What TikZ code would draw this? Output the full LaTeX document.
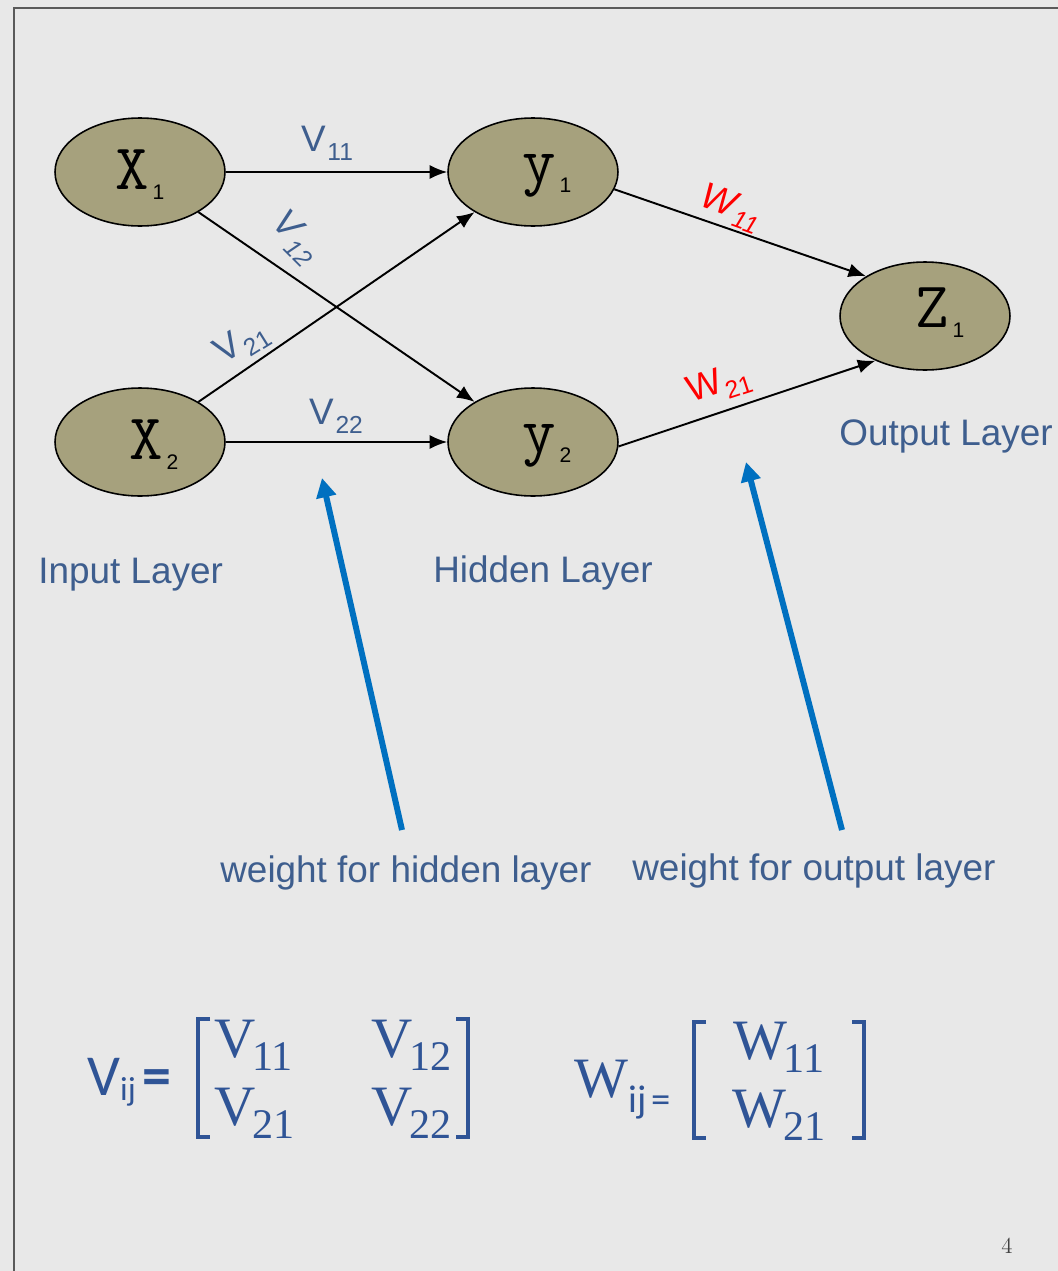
\documentclass[tikz,border=0pt]{standalone}
\usepackage{fontspec}
\newfontfamily\arialfont{Liberation Sans}
\newfontfamily\carlitofont{Carlito}
\newfontfamily\timesfont{Liberation Serif}
\usepackage{xcolor}
\usepackage{tikz}
\usetikzlibrary{arrows.meta,shapes.geometric}

\definecolor{nodefill}{RGB}{166,161,125}
\definecolor{labelblue}{RGB}{62,94,142}
\definecolor{arrowblue}{RGB}{0,112,192}
\definecolor{formblue}{RGB}{47,84,150}
\definecolor{slidegray}{RGB}{232,232,232}
\definecolor{framegray}{RGB}{90,90,90}

% subscripts
\newcommand{\nsub}[1]{\kern2pt\raisebox{-5.5pt}{\arialfont\fontsize{12}{12}\selectfont #1}}
\newcommand{\wsub}[2]{#1\kern1pt\raisebox{-5pt}{\fontsize{14}{14}\selectfont #2}}
\newcommand{\msub}[2]{#1\kern-2pt\raisebox{-7.4pt}{\fontsize{24}{24}\selectfont #2}}

\begin{document}
\begin{tikzpicture}[
  x=0.02cm, y=-0.02cm,
  neuron/.style={ellipse, draw=black, line width=0.9pt, fill=nodefill,
    minimum width=3.4cm, minimum height=2.16cm, inner sep=0pt,
    font=\ttfamily\fontsize{37}{37}\selectfont, text height=20pt, text depth=0pt},
  link/.style={-{Latex[length=10pt,width=8pt]}, line width=1.1pt},
  weightlbl/.style={font=\arialfont\fontsize{21}{21}\selectfont, text=labelblue, inner sep=0pt},
  layer/.style={font=\arialfont\fontsize{21}{21}\selectfont, text=labelblue, inner sep=0pt},
  pointer/.style={-{Triangle[length=11pt,width=11pt]}, line width=3.4pt, arrowblue},
  formula/.style={font=\timesfont\fontsize{32.5}{38.5}\selectfont, text=formblue, inner sep=0pt},
  bracket/.style={formblue, line width=2pt}
]

% Slide background
\fill[slidegray] (0,0) rectangle (1058,1271);
\useasboundingbox (0,0) rectangle (1058,1271);
\draw[framegray, line width=0.8pt] (14,1271) -- (14,8) -- (1058,8);

% Neurons
\node[neuron] (x1) at (140,172) {X\nsub{1}};
\node[neuron] (x2) at (140,442) {\kern16pt X\nsub{2}};
\node[neuron, text height=12.5pt] (y1) at (533,172) {\kern16pt y\nsub{1}};
\node[neuron, text height=12.5pt] (y2) at (533,442) {\kern16pt y\nsub{2}};
\node[neuron, text height=13pt] (z1) at (925,316) {\kern17pt Z\nsub{1}};

% Connections
\draw[link] (x1) -- (y1);
\draw[link] (x1) -- (y2);
\draw[link] (x2) -- (y1);
\draw[link] (x2) -- (y2);
\draw[link] (y1.-12) -- (z1.146);
\draw[link] (y2.-3) -- (z1.222);

% Weights
\node[weightlbl] (v11) at (327,143) {\wsub{V}{11}};
\node[weightlbl, rotate=-45, font=\arialfont\itshape\fontsize{21}{21}\selectfont] (v12) at (295,238) {\wsub{V}{12}};
\node[weightlbl, rotate=32] (v21) at (242,343) {\wsub{V}{21}};
\node[weightlbl] (v22) at (336,416) {\wsub{V}{22}};
\node[weightlbl, text=red, rotate=-20, font=\arialfont\itshape\fontsize{21}{21}\selectfont] (w11) at (731,208) {\wsub{W}{11}};
\node[weightlbl, text=red, rotate=18] (w21) at (719,385) {\wsub{W}{21}};

% Layer names
\node[layer, anchor=base west] (inlbl) at (38,583) {Input Layer};
\node[layer, anchor=base west] (hidlbl) at (433,582) {Hidden Layer};
\node[layer, anchor=base west] (outlbl) at (839,445) {Output Layer};
\node[layer, anchor=base west] (whid) at (220,882) {weight for hidden layer};
\node[layer, anchor=base west] (wout) at (632,880) {weight for output layer};

% Pointers
\coordinate (phid) at (402,830);
\coordinate (phidtip) at (322,478);
\coordinate (pout) at (842,830);
\coordinate (pouttip) at (746,462);
\draw[pointer] (phid) -- (phidtip);
\draw[pointer] (pout) -- (pouttip);

% Weight matrices
\node[formula, anchor=base west] (vij) at (87,1095)
  {\carlitofont\fontsize{33}{33}\selectfont V\raisebox{-3pt}{\fontsize{19}{19}\selectfont ij}\kern4pt\textbf{=}};
\node[formula] (vmat) at (333,1078)
  {\begin{tabular}{@{}l@{\hspace{44pt}}l@{}}\msub{V}{11} & \msub{V}{12}\\ \msub{V}{21} & \msub{V}{22}\end{tabular}};
\draw[bracket] ([shift={(-123,-59)}]vmat.center) -- ++(-12,0) -- ++(0,118) -- ++(12,0);
\draw[bracket] ([shift={(123,-59)}]vmat.center) -- ++(12,0) -- ++(0,118) -- ++(-12,0);
\node[formula, anchor=base west] (wij) at (574,1097)
  {W\raisebox{-9pt}{\carlitofont\fontsize{22}{22}\selectfont ij\kern3pt=}};
\node[formula] (wmat) at (779,1080)
  {\begin{tabular}{@{}c@{}}\msub{W}{11}\\ \msub{W}{21}\end{tabular}};
\draw[bracket] ([shift={(-73,-58)}]wmat.center) -- ++(-12,0) -- ++(0,116) -- ++(12,0);
\draw[bracket] ([shift={(73,-58)}]wmat.center) -- ++(12,0) -- ++(0,116) -- ++(-12,0);

% Page number
\node[font=\fontsize{13}{13}\selectfont, text=black!75, anchor=base] (pnum) at (1007,1253) {4};

\end{tikzpicture}
\end{document}
